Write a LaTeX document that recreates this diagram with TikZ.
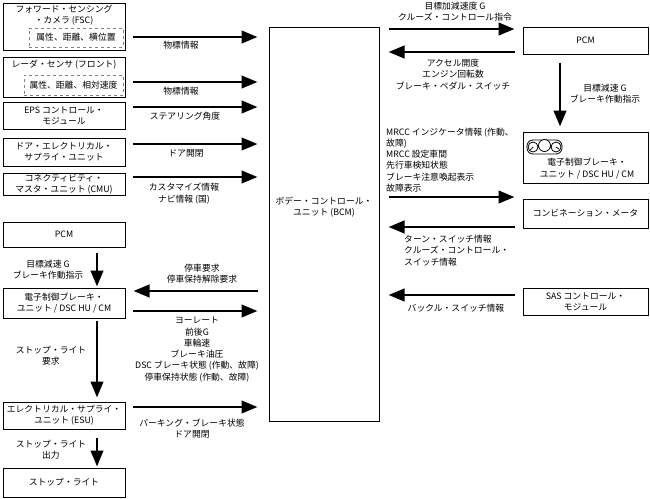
\documentclass[tikz,border=0pt]{standalone}
\usepackage{fontspec}
\setmainfont{Noto Sans CJK JP}
\usetikzlibrary{arrows.meta}

\begin{document}
\begin{tikzpicture}[x=1pt,y=-1pt,
  every node/.style={font=\fontsize{8.8}{11.3}\selectfont, align=center, inner sep=0pt},
  box/.style={draw, line width=1pt},
  dbox/.style={draw=gray, dashed, line width=0.9pt},
  arr/.style={line width=2.6pt, -{Triangle[length=16pt,width=12.5pt]}},
  toB/.style={shorten <=7pt, shorten >=11pt},
  fromB/.style={shorten <=11pt, shorten >=8pt},
  toR/.style={shorten <=9pt, shorten >=8pt},
  fromR/.style={shorten <=8pt, shorten >=9pt}]
\useasboundingbox (0,0) rectangle (650,498);

\node[box, minimum width=122pt, minimum height=47pt] (fsc) at (64,26.5) {};
\node (fsctext) at (64,15) {フォワード・センシング\\・カメラ (FSC)};
\node[dbox, minimum width=94pt, minimum height=19pt] (fscattr) at (76,37.5) {属性、距離、横位置};
\node[box, minimum width=122pt, minimum height=40pt] (radar) at (64,77) {};
\node (radartext) at (64,65) {レーダ・センサ (フロント)};
\node[dbox, minimum width=99pt, minimum height=20pt] (radarattr) at (73.5,85) {属性、距離、相対速度};
\node[box, minimum width=122pt, minimum height=27pt] (eps) at (64,115.5) {EPS コントロール・\\モジュール};
\node[box, minimum width=122pt, minimum height=28pt] (desu) at (64,152) {ドア・エレクトリカル・\\サプライ・ユニット};
\node[box, minimum width=122pt, minimum height=22pt] (cmu) at (64,184) {コネクティビティ・\\マスタ・ユニット (CMU)};
\node[box, minimum width=122pt, minimum height=25pt] (pcmL) at (64,234.5) {PCM};
\node[box, minimum width=122pt, minimum height=30pt] (dsc) at (64,303) {電子制御ブレーキ・\\ユニット / DSC HU / CM};
\node[box, minimum width=122pt, minimum height=27pt] (esu) at (64,415.5) {エレクトリカル・サプライ・\\ユニット (ESU)};
\node[box, minimum width=122pt, minimum height=29pt] (stop) at (64,482.5) {ストップ・ライト};

\node[box, minimum width=110pt, minimum height=394pt] (bcm) at (324,224) {};
\node (bcmtext) at (324,207) {ボデー・コントロール・\\ユニット (BCM)};

\node[box, minimum width=125pt, minimum height=27pt] (pcmR) at (585.5,40.5) {PCM};
\node[box, minimum width=125pt, minimum height=51pt] (meter) at (585.5,157.5) {};
\node (metertext) at (587,168.5) {電子制御ブレーキ・\\ユニット / DSC HU / CM};
\node[box, minimum width=125pt, minimum height=29pt] (comb) at (585.5,213.5) {コンビネーション・メータ};
\node[box, minimum width=125pt, minimum height=27pt] (sas) at (585.5,301.5) {SAS コントロール・\\モジュール};

\draw[line width=0.8pt, rounded corners=6pt] (527,140) rectangle (562,154);
\draw[line width=0.8pt, fill=white] (533,147) circle (5pt) (544.5,145.5) circle (6pt) (556,147) circle (5pt);
\draw[line width=0.7pt] (533,147) -- (530,150) (556,147) -- (559,149);

\draw[arr, toB] (fsc.east |- 0,37) -- (bcm.west |- 0,37);
\node (l1) at (181,45) {物標情報};
\draw[arr, toB] (radar.east |- 0,82) -- (bcm.west |- 0,82);
\node (l2) at (181,91) {物標情報};
\draw[arr, toB] (eps.east |- 0,107) -- (bcm.west |- 0,107);
\node (l3) at (185,116) {ステアリング角度};
\draw[arr, toB] (desu.east |- 0,144) -- (bcm.west |- 0,144);
\node (l4) at (186,153) {ドア開閉};
\draw[arr, toB] (cmu.east |- 0,177) -- (bcm.west |- 0,177);
\node (l5) at (184,193.5) {カスタマイズ情報\\ナビ情報 (国)};

\draw[arr, shorten <=5pt, shorten >=1pt] (pcmL.south -| 97,0) -- (dsc.north -| 97,0);
\node (l6) at (48,269.5) {目標減速 G\\ブレーキ作動指示};
\draw[arr, fromB] (bcm.west |- 0,291) -- (dsc.east |- 0,291);
\node (l7) at (202,274) {停車要求\\停車保持解除要求};
\draw[arr, toB] (dsc.east |- 0,311) -- (bcm.west |- 0,311);
\node (l8) at (197,349.5) {ヨーレート\\前後G\\車輪速\\ブレーキ油圧\\DSC ブレーキ状態 (作動、故障)\\停車保持状態 (作動、故障)};
\draw[arr, shorten <=2pt, shorten >=4pt] (dsc.south -| 97,0) -- (esu.north -| 97,0);
\node (l9) at (51,356) {ストップ・ライト\\要求};
\draw[arr, toB] (esu.east |- 0,407) -- (bcm.west |- 0,407);
\node (l10) at (192,428.5) {パーキング・ブレーキ状態\\ドア開閉};
\draw[arr, shorten <=8pt, shorten >=1pt] (esu.south -| 97,0) -- (stop.north -| 97,0);
\node (l11) at (51,449.5) {ストップ・ライト\\出力};

\draw[arr, toR] (bcm.east |- 0,29) -- (pcmR.west |- 0,29);
\node (r1) at (455,12) {目標加減速度 G\\クルーズ・コントロール指令};
\draw[arr, fromR] (pcmR.west |- 0,52) -- (bcm.east |- 0,52);
\node (r2) at (453,74.5) {アクセル開度\\エンジン回転数\\ブレーキ・ペダル・スイッチ};
\draw[arr, shorten <=8pt, shorten >=5pt] (pcmR.south -| 560,0) -- (meter.north -| 560,0);
\node (r3) at (605,94) {目標減速 G\\ブレーキ作動指示};
\draw[arr, toR] (bcm.east |- 0,197) -- (comb.west |- 0,197);
\node[anchor=west, align=left] (r4) at (386,160) {MRCC インジケータ情報 (作動、\\故障)\\MRCC 設定車間\\先行車検知状態\\ブレーキ注意喚起表示\\故障表示};
\draw[arr, fromR] (comb.west |- 0,227) -- (bcm.east |- 0,227);
\node[anchor=west, align=left] (r5) at (404,250.5) {ターン・スイッチ情報\\クルーズ・コントロール・\\スイッチ情報};
\draw[arr, fromR] (sas.west |- 0,295) -- (bcm.east |- 0,295);
\node (r6) at (456,308) {バックル・スイッチ情報};
\end{tikzpicture}
\end{document}
